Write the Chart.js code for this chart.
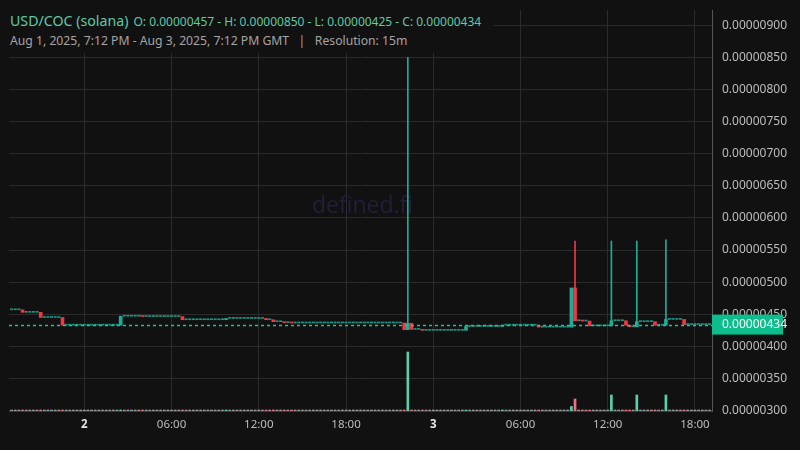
<!DOCTYPE html>
<html>
<head>
<meta charset="utf-8">
<style>
  body { margin: 0; background: #111111; }
  #wrap { position: relative; width: 800px; height: 450px; }
  #head {
    position: absolute; left: 0; top: 0; width: 494px; height: 53px;
    background: #111111; font-family: "Noto Sans", sans-serif;
  }
  #head .l1 { position: absolute; left: 10px; top: 9px; white-space: nowrap; color: #5ccba6; }
  #head .sym { font-size: 14.2px; }
  #head .ohlc { font-size: 12px; margin-left: 5px; }
  #head .l2 { position: absolute; left: 10px; top: 32px; white-space: nowrap; color: #a4a4a4; font-size: 12.2px; }
</style>
</head>
<body>
<div id="wrap">
  <canvas id="chart" width="800" height="450"></canvas>
  <div id="head">
    <div class="l1"><span class="sym">USD/COC (solana)</span><span class="ohlc">O: 0.00000457 - H: 0.00000850 - L: 0.00000425 - C: 0.00000434</span></div>
    <div class="l2">Aug 1, 2025, 7:12 PM - Aug 3, 2025, 7:12 PM GMT &nbsp; | &nbsp; Resolution: 15m</div>
  </div>
</div>

<script src="https://cdn.jsdelivr.net/npm/chart.js"></script>
<script>
// 15 minute candles, hours counted from Aug 2 00:00, prices in units of 1e-8
const startHour = -5;   // Aug 1 19:00
const stepHours = 0.25;
const firstOpen = 457;
const closes = [
  457, 457, 457, 453,        // 19:00
  453, 453, 453, 453,        // 20:00
  445, 445, 445, 445,        // 21:00
  445, 445, 433, 433,        // 22:00
  433, 433, 433, 433,        // 23:00
  433, 433, 433, 433,        // Aug 2 00:00
  433, 433, 433, 433,        // 01:00
  433, 433, 447, 447,        // 02:00
  447, 447, 447, 447,        // 03:00
  446.5, 446.5, 446.5, 446.5, // 04:00
  446.5, 446.5, 446.5, 446.5, // 05:00
  446.5, 446.5, 446.5, 441.5, // 06:00
  441.5, 441.5, 441.5, 441.5, // 07:00
  441.5, 441.5, 441.5, 441.5, // 08:00
  441.5, 441.5, 441.5, 443.5, // 09:00
  443.5, 443.5, 443.5, 443.5, // 10:00
  443.5, 443.5, 443.5, 443.5, // 11:00
  443.5, 443.5, 441.5, 441.5, // 12:00
  438.5, 438.5, 438.5, 437,   // 13:00
  437, 436.5, 436.5, 436.5,   // 14:00
  436.5, 436.5, 436.5, 436.5, // 15:00
  436.5, 436.5, 436.5, 436.5, // 16:00
  436.5, 436.5, 436.5, 436.5, // 17:00
  436.5, 436.5, 436.5, 436.5, // 18:00
  436.5, 436.5, 436.5, 436.5, // 19:00
  436.5, 436.5, 436.5, 436.5, // 20:00
  436.5, 436.5, 436.5, 436.5, // 21:00
  426, 436, 426.5, 426.5,     // 22:00
  426.5, 425, 425, 425,       // 23:00
  425, 425, 425, 425,         // Aug 3 00:00
  425, 425, 425, 425,         // 01:00
  425, 431, 431, 431,         // 02:00
  431, 431, 431, 431,         // 03:00
  431, 431, 431, 433,         // 04:00
  433, 433, 433, 433,         // 05:00
  433, 433, 433, 433,         // 06:00
  433, 430, 430, 430,         // 07:00
  430, 430, 430, 430,         // 08:00
  430, 430, 491, 440,         // 09:00
  440, 439.5, 439.5, 432,     // 10:00
  432, 432, 432, 432,         // 11:00
  432, 440, 440, 440,         // 12:00
  440, 433, 430.5, 430.5,     // 13:00
  438.5, 438.5, 438.5, 438.5, // 14:00
  438.5, 433, 433, 433,       // 15:00
  442, 442, 442, 442,         // 16:00
  442, 434, 434, 434,         // 17:00
  434, 434, 434, 434,         // 18:00
  434                         // 19:00
];

// candles with an upper wick
const wickIdx = [109, 155, 165, 172, 180];
const wickHigh = [850, 564, 564, 564, 566];

// volume (arbitrary units), all other candles ~0
const volIdx = [3, 8, 14, 30, 36, 47, 59, 70, 72, 75, 77, 108, 109, 110, 113, 125, 135, 145, 154, 155, 157, 159, 165, 169, 170, 172, 177, 180, 185];
const volVals = [8, 8, 8, 8, 6, 8, 6, 6, 6, 6, 6, 8, 590, 10, 6, 8, 6, 6, 45, 120, 6, 10, 160, 10, 8, 160, 8, 160, 8];

const yTicks = [300, 350, 400, 450, 500, 550, 600, 650, 700, 750, 800, 850, 900];
const xTicks = [0, 6, 12, 18, 24, 30, 36, 42];
const xTickLabels = ['2', '06:00', '12:00', '18:00', '3', '06:00', '12:00', '18:00'];
const lastClose = 434;

const UP = '#22ab94', DOWN = '#f23645', FLAT = '#1c9682';
const P = 1e-8;

const hours = closes.map((_, i) => startHour + i * stepHours);
const opens = closes.map((c, i) => i === 0 ? firstOpen : closes[i - 1]);
const dirColor = (i, up, down, flat) => closes[i] > opens[i] ? up : (closes[i] < opens[i] ? down : flat);

// moving candles and flat (no trade) candles drawn as separate sets
const moveData = [], moveColors = [], flatData = [];
closes.forEach((c, i) => {
  const pt = { x: hours[i], y: [opens[i] * P, c * P] };
  if (c === opens[i]) flatData.push(pt);
  else { moveData.push(pt); moveColors.push(dirColor(i, UP, DOWN, FLAT)); }
});

const wickData = wickIdx.map((idx, k) => ({ x: hours[idx], y: [Math.max(opens[idx], closes[idx]) * P, wickHigh[k] * P] }));
const wickColors = wickIdx.map(idx => dirColor(idx, UP, DOWN, UP));

const volumes = closes.map(() => 0);
volIdx.forEach((idx, k) => { volumes[idx] = volVals[k]; });
const volData = volumes.map((v, i) => ({ x: hours[i], y: v }));
const volColors = closes.map((c, i) => dirColor(i, '#5ccfa8', '#f06e80', 'rgba(190,190,190,0.75)'));

const overlay = {
  id: 'overlay',
  beforeDatasetsDraw(chart) {
    const { ctx, chartArea: a } = chart;
    ctx.save();
    ctx.font = '23px "Open Sans", sans-serif';
    ctx.fillStyle = '#221f3b';
    ctx.textAlign = 'center';
    ctx.textBaseline = 'middle';
    ctx.fillText('defined.fi', (a.left + a.right) / 2 + 2, (a.top + a.bottom) / 2 - 4);
    ctx.restore();
  },
  afterDraw(chart) {
    const { ctx, chartArea: a } = chart;
    const y = chart.scales.y.getPixelForValue(lastClose * P);
    ctx.save();
    // clip price labels below the pane
    ctx.fillStyle = '#111111';
    ctx.fillRect(a.right + 1, a.bottom + 4, 800 - a.right, 40);
    ctx.strokeStyle = '#1fc39a';
    ctx.lineWidth = 1.3;
    ctx.setLineDash([3, 3]);
    ctx.beginPath();
    ctx.moveTo(a.left, Math.round(y) + 0.5);
    ctx.lineTo(a.right, Math.round(y) + 0.5);
    ctx.stroke();
    ctx.setLineDash([]);
    ctx.fillStyle = '#0dbd8b';
    ctx.fillRect(a.right, y - 10, 71, 20);
    ctx.fillStyle = '#ffffff';
    ctx.font = '12px "Noto Sans", sans-serif';
    ctx.textBaseline = 'middle';
    ctx.fillText((lastClose * P).toFixed(8), a.right + 10, y + 0.5);
    ctx.restore();
  }
};

new Chart(document.getElementById('chart'), {
  type: 'bar',
  data: {
    datasets: [
      { label: 'body', data: moveData, backgroundColor: moveColors, barThickness: 3, minBarLength: 1, grouped: false, order: 0 },
      { label: 'flat', data: flatData, backgroundColor: FLAT, barThickness: 2.4, minBarLength: 1, grouped: false, order: 1 },
      { label: 'wick', data: wickData, backgroundColor: wickColors, barThickness: 1, grouped: false, order: 2 },
      { label: 'volume', data: volData, yAxisID: 'yv', backgroundColor: volColors, barThickness: 2, minBarLength: 1, grouped: false, order: 3 }
    ]
  },
  options: {
    responsive: false,
    animation: false,
    layout: { padding: { left: 9, top: 10, right: 0, bottom: 0 } },
    plugins: { legend: { display: false }, tooltip: { enabled: false } },
    scales: {
      x: {
        type: 'linear',
        min: -5.18,
        max: 43.17,
        offset: false,
        afterBuildTicks: s => { s.ticks = xTicks.map(v => ({ value: v })); },
        afterFit: s => { s.height = 39; s.paddingLeft = 0; s.paddingRight = 0; },
        grid: { color: '#2b2b2b', drawTicks: false, offset: false },
        border: { color: '#3c3c3c' },
        ticks: {
          padding: 7,
          maxRotation: 0,
          autoSkip: false,
          color: c => (c.tick && c.tick.value % 24 === 0) ? '#e6e6e6' : '#bdbdbd',
          font: c => ({ family: '"Noto Sans", sans-serif', size: 11.5, weight: (c.tick && c.tick.value % 24 === 0) ? 'bold' : 'normal' }),
          callback: v => xTickLabels[xTicks.indexOf(v)]
        }
      },
      y: {
        position: 'right',
        min: 299.5 * P,
        max: 923.5 * P,
        afterBuildTicks: s => { s.ticks = yTicks.map(v => ({ value: v * P })); },
        afterFit: s => { s.width = 88; s.paddingTop = 0; s.paddingBottom = 0; },
        grid: { color: '#2b2b2b', drawTicks: false },
        border: { color: '#555555' },
        ticks: {
          padding: 10,
          color: '#bdbdbd',
          font: { family: '"Noto Sans", sans-serif', size: 12 },
          callback: v => v.toFixed(8)
        }
      },
      yv: {
        display: false,
        min: 0,
        max: 4010
      }
    }
  },
  plugins: [overlay]
});
</script>
</body>
</html>
